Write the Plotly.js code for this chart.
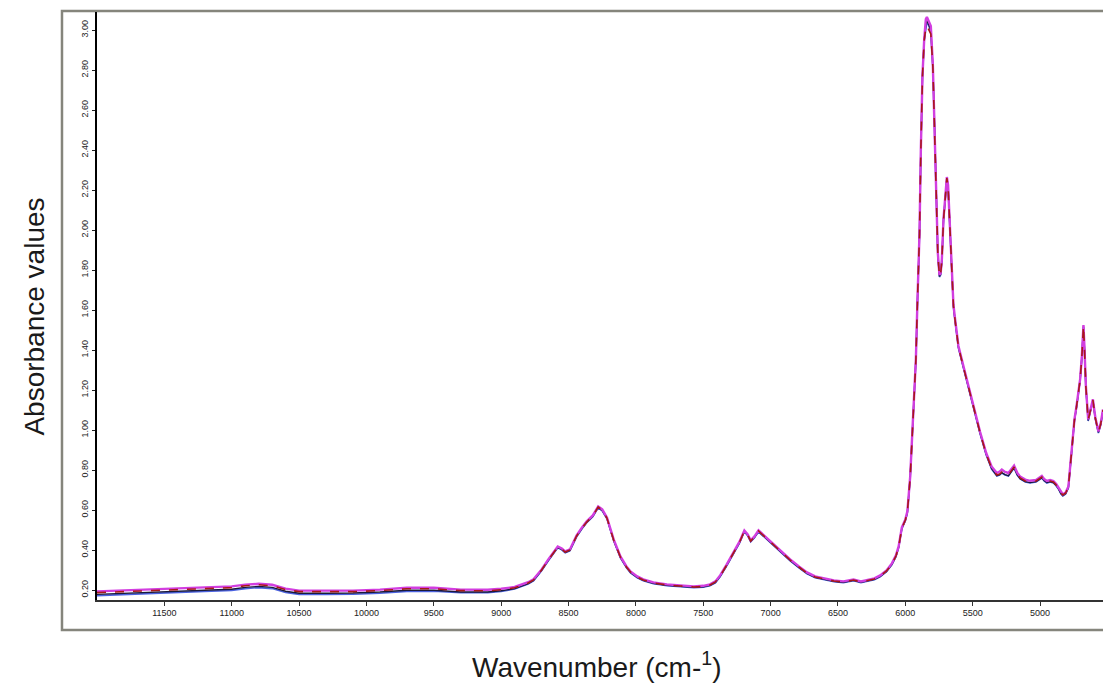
<!DOCTYPE html>
<html>
<head>
<meta charset="utf-8">
<script src="https://cdn.plot.ly/plotly-3.0.1.min.js"></script>
<style>html,body{margin:0;padding:0;background:#fff;}#chart{width:1103px;height:685px;}</style>
</head>
<body>
<div id="chart"></div>
<script>
// Wavenumbers (cm-1), shared by all spectra
const wavenumbers = [12000,11800,11600,11400,11200,11000,10900,10800,10700,10600,10500,10300,10100,9900,9700,9500,9300,9100,9000,8900,8800,8760,8700,8650,8600,8580,8550,8525,8490,8440,8400,8365,8320,8280,8250,8215,8165,8115,8070,8040,7990,7945,7870,7770,7670,7570,7500,7450,7410,7375,7330,7275,7230,7195,7170,7148,7120,7090,7050,6980,6920,6855,6790,6730,6670,6610,6530,6460,6420,6385,6330,6286,6230,6187,6140,6100,6070,6050,6026,6000,5985,5964,5940,5922,5910,5895,5885,5873,5860,5848,5840,5825,5811,5796,5783,5773,5765,5759,5747,5738,5729,5717,5705,5692,5683,5675,5660,5643,5631,5606,5569,5532,5495,5445,5400,5360,5321,5300,5284,5260,5235,5210,5193,5170,5148,5110,5074,5030,5000,4987,4970,4950,4925,4901,4880,4864,4845,4831,4810,4790,4765,4745,4730,4716,4703,4690,4678,4670,4660,4643,4625,4608,4590,4567,4550,4533];

const blueSpectrum = [0.172,0.178,0.183,0.188,0.193,0.198,0.207,0.212,0.207,0.188,0.178,0.178,0.179,0.184,0.193,0.194,0.186,0.187,0.193,0.205,0.230,0.246,0.296,0.346,0.396,0.411,0.401,0.386,0.396,0.466,0.506,0.536,0.566,0.611,0.596,0.556,0.446,0.361,0.311,0.286,0.261,0.246,0.231,0.221,0.216,0.211,0.214,0.221,0.236,0.266,0.316,0.381,0.436,0.491,0.471,0.441,0.461,0.491,0.466,0.421,0.386,0.346,0.311,0.281,0.261,0.251,0.241,0.236,0.241,0.246,0.236,0.241,0.251,0.266,0.291,0.326,0.366,0.411,0.506,0.546,0.586,0.760,1.060,1.345,1.645,1.975,2.395,2.765,2.945,3.020,3.040,3.020,2.990,2.815,2.525,2.265,2.045,1.875,1.765,1.775,1.845,2.045,2.145,2.255,2.215,2.080,1.815,1.615,1.545,1.410,1.310,1.210,1.110,0.980,0.875,0.805,0.770,0.775,0.785,0.775,0.770,0.795,0.810,0.775,0.755,0.740,0.735,0.740,0.755,0.760,0.745,0.735,0.740,0.735,0.720,0.705,0.680,0.670,0.680,0.710,0.895,1.045,1.110,1.175,1.245,1.360,1.515,1.395,1.210,1.045,1.095,1.145,1.055,0.985,1.025,1.095];

const blackSpectrum = [0.178,0.184,0.189,0.194,0.199,0.204,0.213,0.218,0.213,0.194,0.184,0.184,0.185,0.190,0.199,0.199,0.190,0.190,0.196,0.207,0.232,0.248,0.298,0.348,0.398,0.413,0.403,0.388,0.398,0.468,0.508,0.538,0.568,0.613,0.598,0.558,0.448,0.363,0.313,0.288,0.263,0.248,0.233,0.223,0.218,0.213,0.216,0.223,0.238,0.268,0.318,0.383,0.438,0.493,0.473,0.443,0.463,0.493,0.468,0.423,0.388,0.348,0.313,0.283,0.263,0.253,0.243,0.238,0.243,0.248,0.238,0.243,0.253,0.268,0.293,0.328,0.368,0.413,0.508,0.548,0.588,0.763,1.063,1.348,1.648,1.978,2.398,2.768,2.948,3.030,3.045,3.025,2.995,2.818,2.528,2.268,2.048,1.878,1.768,1.778,1.848,2.048,2.148,2.258,2.218,2.083,1.818,1.618,1.548,1.413,1.313,1.213,1.113,0.983,0.878,0.808,0.772,0.777,0.787,0.777,0.772,0.797,0.812,0.777,0.757,0.742,0.737,0.742,0.757,0.762,0.747,0.737,0.742,0.737,0.722,0.707,0.682,0.672,0.682,0.712,0.898,1.048,1.113,1.178,1.248,1.363,1.518,1.398,1.213,1.048,1.098,1.148,1.058,0.988,1.028,1.098];

const magentaSpectrum = [0.193,0.198,0.203,0.208,0.213,0.218,0.227,0.231,0.226,0.207,0.197,0.197,0.197,0.202,0.211,0.211,0.202,0.201,0.206,0.215,0.239,0.254,0.303,0.353,0.403,0.418,0.408,0.393,0.403,0.473,0.513,0.543,0.573,0.618,0.603,0.563,0.453,0.368,0.318,0.293,0.268,0.253,0.238,0.228,0.223,0.218,0.221,0.228,0.243,0.273,0.323,0.388,0.443,0.498,0.478,0.448,0.468,0.498,0.473,0.428,0.393,0.353,0.318,0.288,0.268,0.258,0.248,0.243,0.248,0.253,0.243,0.248,0.258,0.273,0.298,0.333,0.373,0.418,0.513,0.553,0.593,0.768,1.068,1.353,1.653,1.983,2.403,2.773,2.955,3.055,3.065,3.045,3.020,2.825,2.535,2.275,2.055,1.885,1.775,1.785,1.855,2.055,2.155,2.265,2.225,2.090,1.825,1.625,1.555,1.420,1.320,1.220,1.120,0.990,0.885,0.818,0.785,0.792,0.802,0.790,0.785,0.808,0.822,0.787,0.767,0.752,0.746,0.750,0.765,0.770,0.755,0.745,0.750,0.745,0.730,0.713,0.688,0.678,0.688,0.718,0.903,1.053,1.118,1.183,1.253,1.368,1.525,1.403,1.218,1.053,1.103,1.153,1.063,0.993,1.033,1.103];

const redSpectrum = [0.187,0.192,0.197,0.202,0.207,0.212,0.221,0.226,0.221,0.202,0.192,0.192,0.192,0.197,0.206,0.206,0.197,0.196,0.201,0.211,0.235,0.250,0.300,0.350,0.400,0.415,0.405,0.390,0.400,0.470,0.510,0.540,0.570,0.615,0.600,0.560,0.450,0.365,0.315,0.290,0.265,0.250,0.235,0.225,0.220,0.215,0.218,0.225,0.240,0.270,0.320,0.385,0.440,0.495,0.475,0.445,0.465,0.495,0.470,0.425,0.390,0.350,0.315,0.285,0.265,0.255,0.245,0.240,0.245,0.250,0.240,0.245,0.255,0.270,0.295,0.330,0.370,0.415,0.510,0.550,0.590,0.765,1.065,1.350,1.650,1.980,2.400,2.770,2.950,3.010,3.020,3.000,2.980,2.820,2.530,2.270,2.050,1.880,1.770,1.780,1.850,2.050,2.150,2.260,2.220,2.085,1.820,1.620,1.550,1.415,1.315,1.215,1.115,0.985,0.880,0.810,0.775,0.780,0.790,0.780,0.775,0.800,0.815,0.780,0.760,0.745,0.740,0.745,0.760,0.765,0.750,0.740,0.745,0.740,0.725,0.710,0.685,0.675,0.685,0.715,0.900,1.050,1.115,1.180,1.250,1.365,1.520,1.400,1.215,1.050,1.100,1.150,1.060,0.990,1.030,1.100];

const yTickValues = [0.2,0.4,0.6,0.8,1.0,1.2,1.4,1.6,1.8,2.0,2.2,2.4,2.6,2.8,3.0];
const xTickValues = [11500,11000,10500,10000,9500,9000,8500,8000,7500,7000,6500,6000,5500,5000,4500];

const traces = [
  {x: wavenumbers, y: blueSpectrum, type: 'scatter', mode: 'lines', name: 'Sample 1',
   line: {color: '#4b62e0', width: 1.6}},
  {x: wavenumbers, y: blackSpectrum, type: 'scatter', mode: 'lines', name: 'Sample 2',
   line: {color: '#1a1a3a', width: 1.4}},
  {x: wavenumbers, y: magentaSpectrum, type: 'scatter', mode: 'lines', name: 'Sample 3',
   line: {color: '#d23ee0', width: 2.4}},
  {x: wavenumbers, y: redSpectrum, type: 'scatter', mode: 'lines', name: 'Sample 4',
   line: {color: '#a81818', width: 1.6, dash: 'dash'}}
];

const layout = {
  width: 1103, height: 685,
  margin: {l: 97, r: 0, t: 12, b: 85, pad: 0},
  paper_bgcolor: '#ffffff', plot_bgcolor: '#ffffff',
  showlegend: false,
  font: {family: 'Liberation Sans, Arial, sans-serif', color: '#000'},
  xaxis: {
    range: [12000, 4533],
    tickvals: xTickValues,
    ticktext: xTickValues.map(String),
    ticks: 'outside', ticklen: 4, tickwidth: 1, tickcolor: '#333',
    tickfont: {size: 9, color: '#222', family: 'Liberation Sans, Arial, sans-serif'},
    showline: true, linecolor: '#333', linewidth: 1.5,
    showgrid: false, zeroline: false, mirror: false
  },
  yaxis: {
    range: [0.15, 3.09],
    tickvals: yTickValues,
    ticktext: yTickValues.map(v => v.toFixed(2)),
    tickangle: -90,
    ticks: 'outside', ticklen: 3, tickwidth: 1, tickcolor: '#222',
    tickfont: {size: 9, color: '#222', family: 'Liberation Sans, Arial, sans-serif'},
    showline: true, linecolor: '#000', linewidth: 2.2,
    showgrid: false, zeroline: false, mirror: false
  },
  shapes: [
    {type: 'rect', xref: 'paper', yref: 'paper', x0: -0.0348, x1: 1.02, y0: -0.051, y1: 1.0017,
     line: {color: '#85857c', width: 2.5}, fillcolor: 'rgba(0,0,0,0)', layer: 'below'}
  ],
  annotations: [
    {text: 'Absorbance values', xref: 'paper', yref: 'paper', x: -0.0616, y: 0.482,
     xanchor: 'center', yanchor: 'middle', textangle: -90, showarrow: false,
     font: {size: 28, color: '#1a1a1a', family: 'Liberation Sans, Arial, sans-serif'}},
    {text: 'Wavenumber (cm-<sup>1</sup>)', xref: 'paper', yref: 'paper', x: 0.497, y: -0.11,
     xanchor: 'center', yanchor: 'middle', showarrow: false,
     font: {size: 28, color: '#1a1a1a', family: 'Liberation Sans, Arial, sans-serif'}}
  ]
};

Plotly.newPlot('chart', traces, layout, {displayModeBar: false, staticPlot: true});
</script>
</body>
</html>
